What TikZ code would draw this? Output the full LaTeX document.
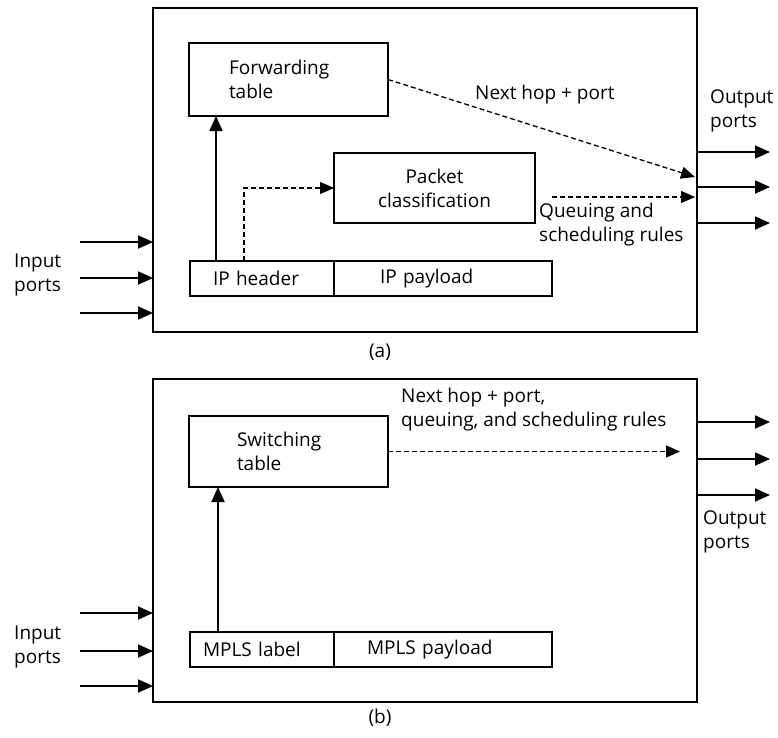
\documentclass[tikz,border=0pt]{standalone}
\usepackage{fontspec}
\setmainfont{Open Sans}
\usetikzlibrary{arrows.meta}
\begin{document}
\begin{tikzpicture}[x=1pt,y=-1pt,
  font=\fontsize{19}{24}\selectfont,
  box/.style={draw, line width=1.3pt, inner sep=0pt, outer sep=0pt},
  frame/.style={box, line width=1.5pt},
  lbl/.style={inner sep=0pt, align=left},
  arr/.style={line width=1.8pt, -{Triangle[length=15pt,width=13pt]}},
  darr/.style={line width=1.3pt, dash pattern=on 5pt off 3pt, -{Triangle[length=14pt,width=12pt]}}
]
\useasboundingbox (0,0) rectangle (778,737);
% ---------- (a) ----------
\node[frame, minimum width=544pt, minimum height=324pt] (boxa) at (425,170) {};
\node[box, minimum width=199pt, minimum height=73pt, inner xsep=40pt, text width=119pt, align=left] (ft) at (288.5,79.5) {Forwarding\\table};
\node[box, minimum width=201pt, minimum height=70pt, align=center] (pc) at (434.5,188) {Packet\\classification};
\node[box, minimum height=35pt, inner xsep=23pt, text width=98pt, align=left] (iph) at (262,278.5) {IP header};
\node[box, minimum height=35pt, inner xsep=46pt, text width=126pt, align=left] (ipp) at (443,278.5) {IP payload};
\coordinate (va) at (216,261);
\coordinate (da) at (244,261);
\draw[arr] (va) -- (va |- ft.south);
\draw[darr] (da) |- (pc.west);
\coordinate (oa) at (695,177);
\draw[darr] (ft.east) -- (oa);
\coordinate (qa0) at (552,197);
\coordinate (qa1) at (695,197);
\draw[darr] (qa0) -- (qa1);
\node[lbl, anchor=west] (nh) at (475,95) {Next hop + port};
\node[lbl, anchor=west] (qs) at (539,225) {Queuing and\\scheduling rules};
\node[lbl, anchor=west] (opa) at (710,111) {Output\\ports};
\node[lbl, anchor=west] (ipa) at (14,275) {Input\\ports};
\foreach \y [count=\i] in {242,278,313} {
  \coordinate (ia\i) at (80,\y);
  \draw[arr] (ia\i) -- (ia\i -| boxa.west);
}
\foreach \y [count=\i] in {152,187,223} {
  \coordinate (oa\i) at (770,\y);
  \draw[arr] (oa\i -| boxa.east) -- (oa\i);
}
\node (capa) at (380,352) {(a)};
% ---------- (b) ----------
\node[frame, minimum width=544pt, minimum height=323pt] (boxb) at (425,540.5) {};
\node[box, minimum width=199pt, minimum height=71pt, inner xsep=48pt, text width=103pt, align=left] (st) at (288.5,451.5) {Switching\\table};
\node[box, minimum height=35pt, inner xsep=13pt, text width=118pt, align=left] (ml) at (262,649.5) {MPLS label};
\node[box, minimum height=35pt, inner xsep=33pt, text width=152pt, align=left] (mp) at (443,649.5) {MPLS payload};
\coordinate (vb) at (218,632);
\draw[arr] (vb) -- (vb |- st.south);
\coordinate (ob) at (680,451.5);
\draw[darr] (st.east) -- (ob);
\node[lbl, anchor=west] (nhb) at (401,410) {Next hop + port,\\queuing, and scheduling rules};
\node[lbl, anchor=west] (opb) at (703,532) {Output\\ports};
\node[lbl, anchor=west] (ipb) at (14,647) {Input\\ports};
\foreach \y [count=\i] in {613,651,686} {
  \coordinate (ib\i) at (80,\y);
  \draw[arr] (ib\i) -- (ib\i -| boxb.west);
}
\foreach \y [count=\i] in {422,459,495} {
  \coordinate (ob\i) at (770,\y);
  \draw[arr] (ob\i -| boxb.east) -- (ob\i);
}
\node (capb) at (380,718) {(b)};
\end{tikzpicture}
\end{document}
